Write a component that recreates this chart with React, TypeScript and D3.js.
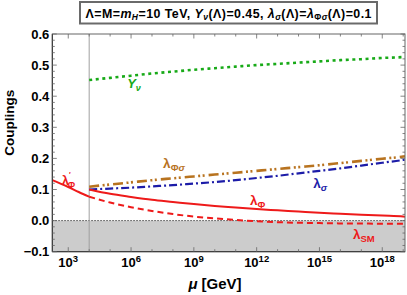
import React from 'react';
import * as d3 from 'd3';

// renormalisation scale grid (GeV)
const muSM = [173, 1e3, 3.16e3, 1e4, 1e5, 1e6, 1e7, 1e8, 1e9, 1e10, 1e11, 1e12, 1e13, 1e14, 1e15, 1e16, 1e17, 1e18, 1.22e19];
const lamSM = [0.130, 0.108, 0.092, 0.077, 0.058, 0.043, 0.031, 0.021, 0.013, 0.007, 0.002, -0.002, -0.005, -0.007, -0.008, -0.009, -0.0095, -0.010, -0.010];

const muNP = [1e4, 1e5, 1e6, 1e7, 1e8, 1e9, 1e10, 1e11, 1e12, 1e13, 1e14, 1e15, 1e16, 1e17, 1e18, 1e19, 1.22e19];
const lamPhi = [0.100, 0.086, 0.076, 0.067, 0.060, 0.053, 0.047, 0.042, 0.037, 0.033, 0.029, 0.025, 0.022, 0.019, 0.016, 0.013, 0.012];
const lamSigma = [0.100, 0.103, 0.106, 0.110, 0.114, 0.119, 0.124, 0.130, 0.137, 0.144, 0.152, 0.160, 0.168, 0.177, 0.186, 0.195, 0.196];
const lamPhiSigma = [0.109, 0.116, 0.123, 0.130, 0.136, 0.142, 0.148, 0.154, 0.160, 0.166, 0.172, 0.178, 0.185, 0.192, 0.199, 0.206, 0.207];
const yNu = [0.452, 0.459, 0.466, 0.473, 0.479, 0.485, 0.490, 0.495, 0.500, 0.504, 0.508, 0.512, 0.516, 0.519, 0.523, 0.526, 0.527];

const lambdaScale = 1e4; // Λ = 10 TeV
const xMajor = [1e3, 1e6, 1e9, 1e12, 1e15, 1e18];
const xMajorExp = ['3', '6', '9', '12', '15', '18'];
const yMajor = [-0.1, 0, 0.1, 0.2, 0.3, 0.4, 0.5, 0.6];
const yLabels = ['\u22120.1', '0.0', '0.1', '0.2', '0.3', '0.4', '0.5', '0.6'];

const RED = '#ee1a1a';
const BLUE = '#1c1ca8';
const BROWN = '#b8731f';
const GREEN = '#18aa18';
const FONT = 'Liberation Sans, Arial, sans-serif';

export default function App() {
  const width = 407, height = 295;
  const left = 52.3, right = 405, top = 34, bottom = 251.7;

  const x = d3.scaleLog().domain([173, 1.22e19]).range([left, right]);
  const y = d3.scaleLinear().domain([-0.1, 0.6]).range([bottom, top]);

  const line = d3.line<[number, number]>().x(d => x(d[0])).y(d => y(d[1])).curve(d3.curveMonotoneX);
  const zip = (a: number[], b: number[]) => a.map((m, i) => [m, b[i]] as [number, number]);

  const sm = zip(muSM, lamSM);
  const smLow = sm.filter(d => d[0] <= lambdaScale);
  const smHigh = sm.filter(d => d[0] >= lambdaScale);

  const xMinor = d3.range(3, 20).map(e => Math.pow(10, e)).filter(v => v < 1.22e19);
  const yMinor = d3.range(-0.1, 0.6001, 0.02);

  return (
    <svg width={width} height={height} style={{ position: 'absolute', left: 0, top: 0 }} fontFamily={FONT}>
      <rect width={width} height={height} fill="white" />
      {/* shaded negative region */}
      <rect x={left} y={y(0)} width={right - left} height={bottom - y(0)} fill="#cccccc" />
      <line x1={left} x2={right} y1={y(0)} y2={y(0)} stroke="#222" strokeWidth={0.8} strokeDasharray="1.5,1.5" />
      <line x1={x(lambdaScale)} x2={x(lambdaScale)} y1={top} y2={bottom} stroke="#a0a0a0" strokeWidth={1} />

      {/* curves */}
      <path d={line(zip(muNP, yNu)) || ''} fill="none" stroke={GREEN} strokeWidth={2.6} strokeDasharray="3,3.6" />
      <path d={line(zip(muNP, lamPhiSigma)) || ''} fill="none" stroke={BROWN} strokeWidth={2.6} strokeDasharray="10,3.5,2,2.5,2,4" />
      <path d={line(zip(muNP, lamSigma)) || ''} fill="none" stroke={BLUE} strokeWidth={2.2} strokeDasharray="8,3,2,3" />
      <path d={line(zip(muNP, lamPhi)) || ''} fill="none" stroke={RED} strokeWidth={2} />
      <path d={line(smLow) || ''} fill="none" stroke={RED} strokeWidth={2} />
      <path d={line(smHigh) || ''} fill="none" stroke={RED} strokeWidth={2} strokeDasharray="6,4" />

      {/* frame */}
      <rect x={left} y={top} width={right - left} height={bottom - top} fill="none" stroke="#666" strokeWidth={1} />
      <line x1={left} x2={left} y1={top} y2={bottom} stroke="#333" strokeWidth={1} />
      <line x1={left} x2={right} y1={bottom} y2={bottom} stroke="#333" strokeWidth={1} />
      {xMinor.map((v, i) => (
        <g key={'xm' + i} stroke="#666" strokeWidth={0.8}>
          <line x1={x(v)} x2={x(v)} y1={bottom} y2={bottom - (xMajor.includes(v) ? 4.5 : 2.5)} />
          <line x1={x(v)} x2={x(v)} y1={top} y2={top + (xMajor.includes(v) ? 4.5 : 2.5)} />
        </g>
      ))}
      {yMinor.map((v, i) => {
        const major = Math.abs(v * 10 - Math.round(v * 10)) < 1e-6;
        return (
          <g key={'ym' + i} stroke="#666" strokeWidth={0.8}>
            <line x1={left} x2={left + (major ? 4.5 : 2.5)} y1={y(v)} y2={y(v)} />
            <line x1={right} x2={right - (major ? 4.5 : 2.5)} y1={y(v)} y2={y(v)} />
          </g>
        );
      })}

      {/* tick labels */}
      {yMajor.map((v, i) => (
        <text key={'yl' + i} x={left - 3} y={y(v) + 4.7} textAnchor="end" fontSize={13} fontWeight="bold">{yLabels[i]}</text>
      ))}
      {xMajor.map((v, i) => (
        <text key={'xl' + i} x={x(v)} y={bottom + 15.5} textAnchor="middle" fontSize={13} fontWeight="bold">
          10<tspan fontSize={9.5} dy={-5.5}>{xMajorExp[i]}</tspan>
        </text>
      ))}

      {/* axis titles */}
      <text transform={`translate(14,${(top + bottom) / 2 - 20}) rotate(-90)`} textAnchor="middle" fontSize={13.5} fontWeight="bold">Couplings</text>
      <text x={215} y={289} textAnchor="middle" fontSize={15} fontWeight="bold">
        <tspan fontStyle="italic">{'\u03bc'}</tspan> [GeV]
      </text>

      {/* curve labels */}
      <text x={x(490)} y={y(0.1145)} fill={RED} fontSize={13} fontWeight="bold">
        {'\u03bb'}<tspan fontSize={7} dy={-8}>{'\u2032'}</tspan><tspan fontSize={9} dx={-3} dy={11}>{'\u03a6'}</tspan>
      </text>
      <text x={x(6.5e5)} y={y(0.426)} fill={GREEN} fontSize={13} fontWeight="bold" fontStyle="italic">
        Y<tspan fontSize={9} dy={3}>{'\u03bd'}</tspan>
      </text>
      <text x={x(3.4e7)} y={y(0.169)} fill={BROWN} fontSize={13.5} fontWeight="bold">
        {'\u03bb'}<tspan fontSize={9.5} dy={3}>{'\u03a6'}<tspan fontStyle="italic">{'\u03c3'}</tspan></tspan>
      </text>
      <text x={x(5e14)} y={y(0.105)} fill={BLUE} fontSize={13.5} fontWeight="bold">
        {'\u03bb'}<tspan fontSize={9.5} dy={3} fontStyle="italic">{'\u03c3'}</tspan>
      </text>
      <text x={x(4.8e11)} y={y(0.051)} fill={RED} fontSize={13.5} fontWeight="bold">
        {'\u03bb'}<tspan fontSize={9.5} dy={3}>{'\u03a6'}</tspan>
      </text>
      <text x={x(4e16)} y={y(-0.059)} fill={RED} fontSize={13.5} fontWeight="bold">
        {'\u03bb'}<tspan fontSize={9.5} dy={3}>SM</tspan>
      </text>

      {/* title box */}
      <rect x={80} y={2} width={297} height={21.5} fill="white" stroke="#6a6a6a" strokeWidth={2} />
      <text x={228.5} y={17.5} textAnchor="middle" fontSize={12.4} fontWeight="bold" textLength={286} lengthAdjust="spacing">
        {'\u039b=M='}<tspan fontStyle="italic">m</tspan><tspan fontStyle="italic" fontSize={8.5} dy={2.5}>H</tspan>
        <tspan dy={-2.5}>{'=10 TeV, '}</tspan><tspan fontStyle="italic">Y</tspan><tspan fontStyle="italic" fontSize={8.5} dy={2.5}>{'\u03bd'}</tspan>
        <tspan dy={-2.5}>{'(\u039b)=0.45, '}</tspan><tspan fontStyle="italic">{'\u03bb'}</tspan><tspan fontStyle="italic" fontSize={8.5} dy={2.5}>{'\u03c3'}</tspan>
        <tspan dy={-2.5}>{'(\u039b)='}</tspan><tspan fontStyle="italic">{'\u03bb'}</tspan><tspan fontSize={8.5} dy={2.5}>{'\u03a6'}<tspan fontStyle="italic">{'\u03c3'}</tspan></tspan>
        <tspan dy={-2.5}>{'(\u039b)=0.1'}</tspan>
      </text>
    </svg>
  );
}
